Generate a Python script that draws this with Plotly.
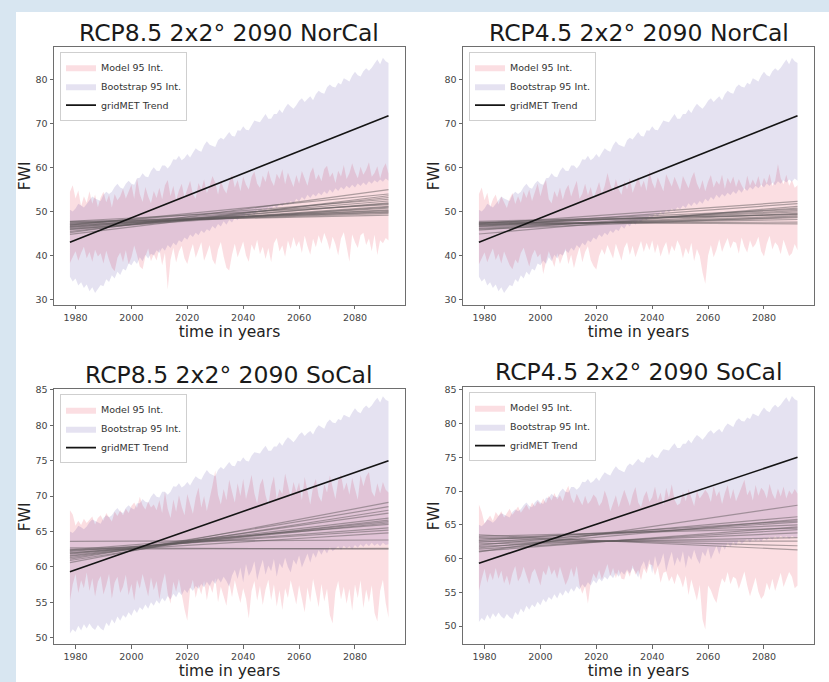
import plotly.graph_objects as go

# ---------------- data ----------------
years = list(range(1978, 2093))  # 115 annual values

# NorCal bootstrap 95% interval (shared by both NorCal panels)
nor_boot_hi = [50.4, 50.0, 50.7, 51.8, 51.4, 50.9, 51.7, 52.6, 53.4, 53.0,
               52.6, 52.4, 53.8, 54.5, 54.0, 54.5, 55.6, 56.3, 55.5, 55.2,
               56.3, 57.0, 56.3, 56.1, 57.6, 57.7, 58.7, 58.0, 57.8, 59.2,
               60.1, 59.3, 59.2, 60.5, 60.5, 59.8, 60.6, 61.9, 61.8, 62.7,
               61.7, 62.2, 63.1, 62.3, 63.4, 64.4, 63.9, 63.6, 65.1, 66.0,
               65.2, 64.9, 64.7, 66.2, 66.8, 66.4, 67.2, 68.1, 67.2, 67.1,
               68.5, 68.4, 69.4, 68.6, 68.5, 69.7, 70.7, 70.5, 70.3, 71.3,
               72.2, 71.1, 71.1, 72.2, 72.2, 73.2, 72.4, 73.6, 74.5, 73.9,
               73.4, 74.2, 75.2, 75.8, 74.9, 75.6, 76.2, 75.3, 76.7, 77.5,
               77.0, 76.8, 78.3, 78.9, 78.4, 78.2, 79.3, 78.9, 80.3, 80.0,
               79.6, 80.9, 81.8, 81.0, 80.7, 81.9, 82.6, 82.0, 82.7, 83.7,
               84.6, 83.5, 85.0, 84.2, 83.8]
nor_boot_lo = [35.2, 34.1, 34.8, 33.2, 33.9, 32.6, 33.4, 31.9, 32.8, 31.5,
               32.4, 33.3, 33.0, 34.6, 34.0, 35.5, 34.8, 36.3, 35.6, 37.0,
               36.6, 38.2, 37.8, 38.9, 38.1, 39.6, 38.7, 40.2, 39.3, 40.4,
               40.0, 41.2, 40.6, 41.8, 41.1, 42.4, 41.7, 42.9, 42.3, 43.5,
               43.0, 44.1, 43.6, 44.8, 44.2, 45.2, 44.6, 45.7, 45.1, 46.0,
               45.6, 46.7, 46.1, 47.2, 46.6, 47.8, 47.0, 48.1, 47.5, 48.6,
               48.0, 49.1, 48.5, 49.6, 48.9, 50.0, 49.3, 50.4, 49.8, 50.7,
               50.1, 51.0, 50.5, 51.4, 50.8, 51.9, 51.2, 52.1, 51.5, 52.4,
               51.8, 52.9, 52.3, 53.3, 52.7, 53.8, 53.1, 54.0, 53.4, 54.3,
               53.7, 54.6, 54.0, 55.0, 54.3, 55.3, 54.7, 55.6, 55.0, 55.9,
               55.3, 56.1, 55.5, 56.4, 55.8, 56.6, 56.0, 56.9, 56.3, 57.1,
               56.6, 57.3, 56.8, 57.5, 57.0]

# SoCal bootstrap 95% interval (shared by both SoCal panels)
soc_boot_hi = [65.0, 64.8, 65.2, 65.8, 65.6, 65.3, 65.7, 66.3, 66.7, 66.5,
               66.2, 66.1, 66.9, 67.3, 67.0, 67.3, 67.9, 68.3, 67.8, 67.6,
               68.3, 68.7, 68.3, 68.1, 69.0, 69.0, 69.6, 69.2, 69.1, 69.9,
               70.4, 69.9, 69.8, 70.6, 70.6, 70.2, 70.6, 71.4, 71.3, 71.8,
               71.2, 71.5, 72.0, 71.5, 72.2, 72.8, 72.5, 72.3, 73.1, 73.7,
               73.2, 73.0, 72.8, 73.7, 74.1, 73.8, 74.3, 74.8, 74.3, 74.2,
               75.0, 74.9, 75.5, 75.0, 74.9, 75.7, 76.2, 76.1, 76.0, 76.6,
               77.1, 76.4, 76.4, 77.0, 77.0, 77.6, 77.1, 77.8, 78.3, 78.0,
               77.6, 78.1, 78.7, 79.0, 78.5, 78.9, 79.2, 78.7, 79.5, 80.0,
               79.7, 79.5, 80.4, 80.8, 80.4, 80.3, 80.9, 80.7, 81.5, 81.3,
               81.1, 81.8, 82.4, 81.9, 81.7, 82.4, 82.8, 82.4, 82.8, 83.4,
               83.9, 83.2, 84.1, 83.6, 83.4]
soc_boot_lo = [50.6, 51.2, 50.8, 51.7, 51.0, 51.9, 51.3, 52.0, 51.4, 51.1,
               51.8, 51.3, 51.0, 52.1, 51.6, 52.6, 52.0, 53.0, 52.4, 53.2,
               52.8, 53.6, 53.1, 54.0, 53.5, 54.3, 53.9, 54.7, 54.1, 55.0,
               54.5, 55.3, 54.8, 55.6, 55.1, 55.9, 55.4, 56.2, 55.7, 56.5,
               56.0, 56.8, 56.3, 57.1, 56.6, 57.3, 56.9, 57.6, 57.1, 57.9,
               57.3, 58.1, 57.6, 58.4, 57.8, 58.6, 58.0, 57.2, 58.8, 59.6,
               58.3, 59.9, 57.8, 60.4, 58.7, 59.5, 60.8, 58.1, 59.7, 61.0,
               58.9, 60.2, 59.4, 61.1, 58.6, 60.5, 59.8, 61.3, 60.0, 59.2,
               61.0, 60.3, 61.6, 59.9, 60.8, 61.9, 60.6, 62.0, 61.3, 62.4,
               61.7, 62.5, 61.9, 62.8, 62.2, 62.6, 62.9, 62.4, 63.0, 62.6,
               62.9, 62.5, 63.1, 62.7, 63.2, 62.8, 63.3, 62.9, 63.4, 63.0,
               63.3, 62.9, 63.4, 63.1, 63.2]

# Model 95% intervals, one per panel
rcp85_nor_hi = [54.5, 56.0, 53.0, 54.8, 51.2, 53.5, 52.0, 54.6, 51.8, 53.9,
                51.0, 53.2, 54.5, 52.1, 53.8, 50.9, 54.0, 52.6, 53.5, 55.2,
                53.0, 54.8, 56.1, 52.9, 57.5, 54.0, 52.2, 55.6, 53.4, 51.9,
                54.7, 53.1, 55.4, 52.8, 56.0, 57.2, 53.5, 55.9, 52.6, 54.8,
                56.3, 53.2, 55.1, 57.0, 54.0, 52.9, 56.5, 55.0, 57.3, 54.2,
                55.8, 58.1, 56.6, 53.9, 57.0, 55.2, 54.1, 56.8, 58.4, 55.5,
                57.2, 54.6, 58.0, 56.1, 55.0, 57.9, 59.1, 56.3, 55.4, 58.2,
                56.7, 59.4, 57.1, 55.8, 58.6, 57.4, 59.6, 56.2, 58.9, 57.0,
                55.6, 58.3, 56.4, 59.2, 57.5, 55.9, 58.8, 60.1, 57.2, 58.5,
                56.9, 59.7, 60.4, 57.8, 58.9, 56.5, 59.3, 58.0, 60.6, 57.4,
                58.7, 61.0, 59.0, 57.6, 60.2, 58.4, 59.5, 61.2, 57.9, 58.8,
                60.3, 57.5, 59.8, 61.0, 58.6]
rcp85_nor_lo = [38.3, 39.5, 41.0, 38.8, 40.6, 42.0, 39.4, 40.8, 38.6, 41.3,
                39.8, 40.5, 38.2, 41.1, 39.0, 37.2, 36.4, 39.5, 40.7, 38.5,
                41.2, 38.0, 39.6, 42.3, 40.1, 37.5, 36.9, 39.8, 41.6, 38.7,
                40.3, 38.9, 41.5, 37.8, 40.6, 32.3, 39.0, 41.8, 38.4, 40.9,
                42.2, 39.3, 38.1, 40.7, 42.6, 39.5, 41.2, 43.0, 38.8, 40.5,
                42.4, 39.1, 37.9, 41.3, 43.1, 39.8, 37.2, 36.6, 40.2, 42.7,
                39.6, 41.4, 43.2, 40.0, 38.6, 42.5, 41.1, 43.6, 40.3, 42.0,
                39.2, 41.7, 38.5, 42.8, 44.0, 40.9, 42.3, 39.7, 43.4, 41.5,
                44.2, 42.0, 43.3, 40.6, 44.5, 42.1, 40.2, 43.8, 41.9, 44.6,
                42.7, 45.1, 43.5, 41.2, 44.3, 42.6, 40.0, 43.9, 45.3, 42.1,
                38.6, 44.8, 43.0, 41.7, 44.6, 45.2, 42.4, 43.9, 41.0, 44.7,
                40.1, 43.5, 42.8, 44.0, 43.4]

rcp45_nor_hi = [54.0, 55.5, 52.6, 54.3, 51.0, 52.8, 53.9, 51.6, 53.4, 52.1,
                50.8, 52.9, 54.2, 51.7, 53.5, 52.0, 54.6, 53.1, 55.0, 52.4,
                54.3, 56.4, 53.5, 55.9, 57.2, 52.8, 51.9, 54.7, 53.2, 55.5,
                52.7, 54.9, 56.1, 53.4, 55.3, 57.0, 52.9, 54.1, 56.3, 53.7,
                55.6, 53.0, 54.8, 56.7, 54.0, 55.9, 58.8, 56.2, 54.5, 57.4,
                55.1, 53.8, 56.9, 55.0, 57.6, 54.3, 56.1, 58.0, 55.4, 57.0,
                54.7, 59.3, 56.6, 55.2, 57.8, 56.0, 54.6, 58.5, 57.1, 55.7,
                57.9, 56.2, 54.8, 58.1, 56.5, 55.3, 57.6, 59.0, 56.4, 55.0,
                57.2, 54.6, 56.8, 58.3, 55.5, 57.0, 56.1, 58.4, 55.2, 57.7,
                56.3, 58.0, 55.6, 57.4, 56.0, 54.8, 58.2, 55.9, 57.3, 56.0,
                58.1, 55.5, 57.7, 56.4, 58.6, 55.8, 57.0, 60.8, 57.6, 56.2,
                58.4, 55.9, 57.2, 55.4, 56.0]
rcp45_nor_lo = [38.0, 39.2, 40.7, 38.5, 40.2, 41.6, 39.0, 40.4, 38.2, 40.9,
                39.5, 37.8, 36.9, 39.1, 38.2, 40.6, 41.8, 39.4, 37.5, 40.0,
                41.3, 39.6, 40.4, 35.8, 38.6, 41.0, 39.2, 37.4, 40.5, 38.1,
                39.8, 41.6, 38.0, 40.2, 37.1, 39.7, 41.9, 38.5, 40.8, 42.1,
                39.0, 37.6, 36.8, 39.9, 41.5, 40.2, 42.4, 41.1, 39.3, 42.7,
                40.6, 38.9, 41.8, 43.0, 40.1, 42.2, 39.6, 41.4, 43.3, 40.8,
                42.9, 41.2, 43.4, 40.5, 42.6, 39.8, 41.7, 43.1, 40.0, 42.3,
                41.0, 43.5, 42.1, 39.4, 41.8, 40.3, 42.9, 38.7, 41.5, 39.9,
                36.2, 33.6, 40.0, 42.4, 39.6, 41.3, 43.7, 40.8, 42.5, 44.0,
                41.6, 43.2, 42.9, 40.4, 44.1, 42.0, 40.7, 43.5, 41.8, 42.6,
                44.3, 41.0, 39.8, 42.7, 44.5, 41.4, 43.0, 42.2, 40.3, 43.6,
                41.8, 39.9, 40.5, 42.6, 41.2]

rcp85_soc_hi = [68.0, 67.4, 65.8, 66.5, 65.9, 66.8, 66.2, 66.6, 67.1, 66.0,
                66.9, 67.3, 66.5, 67.6, 67.0, 66.4, 67.8, 67.2, 68.0, 67.3,
                68.2, 67.6, 68.6, 69.1, 68.3, 69.9, 68.7, 68.1, 69.2, 68.4,
                68.8, 68.0, 69.4, 67.6, 70.6, 68.2, 66.9, 69.5, 67.8, 70.1,
                68.5, 67.3, 70.3, 68.9, 67.5, 69.8, 71.2, 68.4, 70.0, 67.9,
                69.6, 71.5, 73.6, 70.2, 68.8, 71.0, 69.4, 72.3, 70.6, 69.1,
                71.8, 70.0, 72.4, 69.6, 71.2, 73.0, 70.4, 68.9, 71.6, 72.5,
                70.1, 68.7, 71.4, 72.8, 69.5, 71.0, 70.3, 73.2, 71.5, 69.8,
                72.0, 70.6, 71.9, 69.4, 72.7, 70.9, 68.8, 71.3, 72.4, 70.0,
                69.2, 71.7, 70.5, 72.9, 71.1, 69.6, 72.2, 73.0, 70.8, 71.9,
                70.2, 72.6, 71.0, 69.5, 73.0, 71.4, 72.8, 73.4, 70.6, 69.9,
                71.8, 70.4, 72.0, 70.9, 70.5]
rcp85_soc_lo = [55.2, 57.5, 59.0, 56.3, 58.1, 57.0, 59.2, 56.6, 58.4, 55.8,
                57.9, 58.7, 56.1, 57.4, 59.0, 55.5, 57.8, 58.6, 56.3, 57.2,
                58.9, 56.0, 57.6, 55.2, 58.2, 56.9, 59.0, 57.3, 55.8, 58.5,
                56.7, 58.0, 55.4, 57.6, 59.1, 56.2, 54.8, 57.9, 56.5, 58.3,
                55.9, 54.0, 52.4, 56.8, 58.2, 55.6, 57.4, 56.1, 58.0, 55.3,
                57.5, 56.3, 58.4, 55.0, 57.2, 56.0, 54.5, 57.8, 55.7, 58.1,
                56.4, 54.9, 57.0, 55.5, 52.7, 56.6, 58.0, 55.2, 57.3, 54.6,
                56.8, 58.2, 55.3, 57.5, 54.4, 56.7, 53.9, 57.0, 55.6, 58.1,
                56.2, 54.7, 57.4, 55.8, 53.6, 57.1, 55.0, 58.3, 56.4, 54.3,
                57.6, 55.1, 56.9, 53.2, 52.0, 56.5, 58.0, 55.4, 57.2, 54.8,
                56.9, 53.8, 57.5, 55.6, 58.1, 54.2, 56.8, 55.0, 57.4, 53.5,
                52.3, 56.6, 58.2, 54.9, 52.8]

rcp45_soc_hi = [68.0, 66.9, 65.2, 65.8, 66.4, 65.6, 66.9, 66.3, 67.0, 66.1,
                66.8, 67.4, 66.5, 67.1, 67.7, 66.8, 67.5, 68.0, 67.2, 68.3,
                67.7, 68.5, 68.0, 68.9, 68.2, 69.3, 68.6, 69.7, 68.8, 69.4,
                68.5, 69.9, 70.8, 69.0, 68.2, 69.6, 68.7, 67.9, 69.3, 68.1,
                68.6, 69.5, 69.0, 67.8, 68.4, 70.1, 68.9, 67.0, 68.2, 69.4,
                67.6, 68.9, 70.2, 69.0, 67.8, 69.5, 70.6, 68.3, 67.6, 69.2,
                70.0, 68.4, 69.1, 70.7, 68.6, 69.8, 67.9, 70.5, 69.0, 71.0,
                68.7, 67.9, 68.2, 69.9, 68.5, 70.3, 69.1, 67.8, 70.0, 68.9,
                69.5, 70.2, 69.6, 68.4, 70.8, 69.2, 70.0, 68.1, 69.7, 70.9,
                68.8, 70.3, 68.5, 69.7, 70.6, 71.7, 69.4, 70.2, 68.6, 70.9,
                69.3, 70.5, 70.0, 68.9, 71.1, 69.6, 68.8, 70.4, 69.2, 70.7,
                68.9, 70.1, 69.5, 70.3, 69.6]
rcp45_soc_lo = [55.2, 57.0, 58.5, 56.4, 57.9, 56.8, 58.6, 57.0, 58.2, 56.3,
                57.5, 56.0, 57.8, 58.9, 56.6, 57.4, 58.8, 57.5, 56.2, 57.9,
                58.5, 57.1, 56.0, 58.2, 57.5, 59.0, 57.6, 58.4, 57.0, 58.8,
                57.4, 56.1, 57.0, 58.6, 57.2, 58.9, 56.0, 54.8, 55.9, 53.3,
                56.4, 57.8, 57.0, 58.3, 56.9, 58.0, 59.2, 57.4, 58.6, 57.1,
                58.4, 57.0, 56.9, 58.2, 57.3, 59.0, 57.6, 58.3, 56.8, 58.6,
                57.8, 59.2, 59.0, 57.5, 58.7, 56.4, 57.9, 58.1, 56.6, 57.4,
                56.2, 57.8, 57.0, 55.7, 57.5, 54.6, 56.9, 55.2, 53.8, 56.1,
                51.0, 49.5, 56.0, 55.3, 54.2, 53.4, 55.6, 57.1, 56.4, 58.0,
                56.2, 57.3, 57.0, 55.5, 56.8, 58.1, 56.0, 54.4, 55.8, 57.2,
                55.1, 54.0, 54.6, 56.4, 55.3, 57.0, 55.2, 56.6, 57.9, 55.8,
                56.9, 58.0, 57.3, 55.6, 56.0]

# individual model linear trends (start value, end value)
rcp85_nor_start = [47.6, 47.3, 47.0, 46.8, 46.5, 46.2, 47.8, 45.9, 46.6, 47.1, 45.5, 44.8, 46.9, 47.4, 46.0, 45.2, 47.7, 46.4]
rcp85_nor_end = [49.2, 49.6, 50.0, 50.4, 50.8, 51.2, 51.6, 52.0, 52.4, 52.8, 53.2, 53.6, 54.0, 50.2, 51.0, 55.0, 49.8, 51.8]
rcp45_nor_start = [47.6, 47.3, 47.0, 46.8, 46.5, 47.8, 46.2, 47.1, 46.9, 47.4, 45.8, 44.9, 46.6, 47.2, 46.0, 47.5]
rcp45_nor_end = [47.2, 47.6, 48.2, 48.6, 49.0, 49.3, 49.6, 49.9, 50.2, 50.5, 50.8, 51.2, 51.8, 52.3, 48.8, 49.4]
rcp85_soc_start = [63.6, 62.7, 62.4, 62.2, 61.9, 61.6, 61.3, 60.9, 62.5, 61.1, 62.0, 61.8, 60.6, 62.3, 61.5]
rcp85_soc_end = [63.8, 62.5, 66.0, 65.5, 66.4, 66.9, 67.6, 68.0, 62.6, 68.5, 64.8, 66.2, 69.1, 65.2, 66.6]
rcp45_soc_start = [63.5, 63.1, 62.6, 62.2, 61.8, 61.4, 61.1, 62.9, 62.4, 61.6, 62.0, 61.0, 63.3, 62.7]
rcp45_soc_end = [61.3, 61.9, 62.6, 63.1, 63.8, 64.3, 64.7, 65.0, 65.4, 65.8, 66.2, 67.9, 64.5, 65.6]

# gridMET trend (start, end)
nor_gridmet = [43.0, 71.8]
soc_gridmet = [59.3, 75.0]

titles = ["RCP8.5 2x2° 2090 NorCal", "RCP4.5 2x2° 2090 NorCal",
          "RCP8.5 2x2° 2090 SoCal", "RCP4.5 2x2° 2090 SoCal"]
x_ticks = [1980, 2000, 2020, 2040, 2060, 2080]
y_ticks_nor = [30, 40, 50, 60, 70, 80]
y_ticks_soc = [50, 55, 60, 65, 70, 75, 80, 85]

for arr in [nor_boot_hi, nor_boot_lo, soc_boot_hi, soc_boot_lo, rcp85_nor_hi, rcp85_nor_lo,
            rcp45_nor_hi, rcp45_nor_lo, rcp85_soc_hi, rcp85_soc_lo, rcp45_soc_hi, rcp45_soc_lo]:
    assert len(arr) == len(years), len(arr)

# ---------------- figure ----------------
W, H = 829, 682
FONT = "DejaVu Sans"
PINK = "rgba(225,0,30,0.13)"
LAV = "rgba(30,0,130,0.115)"
GRAY = "rgba(95,90,92,0.5)"

panels = [
    dict(hi=rcp85_nor_hi, lo=rcp85_nor_lo, bhi=nor_boot_hi, blo=nor_boot_lo,
         s=rcp85_nor_start, e=rcp85_nor_end, g=nor_gridmet, yt=y_ticks_nor,
         px=(54, 405), py=(42, 302), yr=(28.8, 87.5), ty=28),
    dict(hi=rcp45_nor_hi, lo=rcp45_nor_lo, bhi=nor_boot_hi, blo=nor_boot_lo,
         s=rcp45_nor_start, e=rcp45_nor_end, g=nor_gridmet, yt=y_ticks_nor,
         px=(463, 814), py=(42, 302), yr=(28.8, 87.5), ty=28),
    dict(hi=rcp85_soc_hi, lo=rcp85_soc_lo, bhi=soc_boot_hi, blo=soc_boot_lo,
         s=rcp85_soc_start, e=rcp85_soc_end, g=soc_gridmet, yt=y_ticks_soc,
         px=(54, 405), py=(387, 644), yr=(49.07, 85.1), ty=373),
    dict(hi=rcp45_soc_hi, lo=rcp45_soc_lo, bhi=soc_boot_hi, blo=soc_boot_lo,
         s=rcp45_soc_start, e=rcp45_soc_end, g=soc_gridmet, yt=y_ticks_soc,
         px=(463, 814), py=(385, 644), yr=(47.3, 85.4), ty=370),
]

fig = go.Figure()
layout = dict(
    width=W, height=H, margin=dict(l=0, r=0, t=0, b=0),
    paper_bgcolor="#d8e6f1", plot_bgcolor="white",
    font=dict(family=FONT, color="#333"),
    showlegend=True,
    shapes=[dict(type="rect", xref="paper", yref="paper", x0=16 / W, x1=1.0,
                 y0=0, y1=1 - 7 / H, fillcolor="white", line=dict(width=0),
                 layer="below")],
    annotations=[],
)

for i, p in enumerate(panels):
    k = "" if i == 0 else str(i + 1)
    xa, ya = "x" + k, "y" + k
    leg = "legend" + k
    band_x = years + years[::-1]
    fig.add_trace(go.Scatter(x=band_x, y=p["hi"] + p["lo"][::-1], fill="toself",
                             fillcolor=PINK, mode="lines", line=dict(width=0),
                             name="Model 95 Int.", xaxis=xa, yaxis=ya, legend=leg,
                             hoverinfo="skip"))
    fig.add_trace(go.Scatter(x=band_x, y=p["bhi"] + p["blo"][::-1], fill="toself",
                             fillcolor=LAV, mode="lines", line=dict(width=0),
                             name="Bootstrap 95 Int.", xaxis=xa, yaxis=ya, legend=leg,
                             hoverinfo="skip"))
    for s, e in zip(p["s"], p["e"]):
        fig.add_trace(go.Scatter(x=[years[0], years[-1]], y=[s, e], mode="lines",
                                 line=dict(color=GRAY, width=1.2), showlegend=False,
                                 xaxis=xa, yaxis=ya, hoverinfo="skip"))
    fig.add_trace(go.Scatter(x=[years[0], years[-1]], y=p["g"], mode="lines",
                             line=dict(color="#141414", width=1.6),
                             name="gridMET Trend", xaxis=xa, yaxis=ya, legend=leg))

    x0, x1 = p["px"]
    y0, y1 = p["py"]
    axis_common = dict(showline=True, mirror=True, linecolor="#6e6e6e", linewidth=1,
                       ticks="outside", ticklen=3.5, tickwidth=1, tickcolor="#666",
                       showgrid=False, zeroline=False,
                       tickfont=dict(size=9.5, family=FONT, color="#444"))
    layout["xaxis" + k] = dict(axis_common, domain=[x0 / W, x1 / W], range=[1972.3, 2097.9],
                               tickvals=x_ticks, anchor=ya,
                               title=dict(text="time in years", standoff=2,
                                          font=dict(size=15.5, family=FONT, color="#222")))
    layout["yaxis" + k] = dict(axis_common, domain=[1 - y1 / H, 1 - y0 / H], range=list(p["yr"]),
                               tickvals=p["yt"], anchor=xa,
                               title=dict(text="FWI", standoff=1,
                                          font=dict(size=15.5, family=FONT, color="#222")))
    layout[leg] = dict(x=(x0 + 6) / W, y=1 - (y0 + 5) / H, xanchor="left", yanchor="top",
                       xref="paper", yref="paper", bgcolor="rgba(255,255,255,0.8)",
                       bordercolor="#cfcfcf", borderwidth=1, tracegroupgap=0,
                       itemwidth=30, font=dict(size=9.5, family=FONT, color="#333"))
    layout["annotations"].append(dict(text=titles[i], x=(x0 + x1) / 2 / W, y=1 - p["ty"] / H,
                                      xref="paper", yref="paper", xanchor="center",
                                      yanchor="middle", showarrow=False,
                                      font=dict(size=23.5, family=FONT, color="#1a1a1a")))

fig.update_layout(**layout)
fig.write_html("out.html", config={"displayModeBar": False},
               post_script="document.body.style.margin='0';")
